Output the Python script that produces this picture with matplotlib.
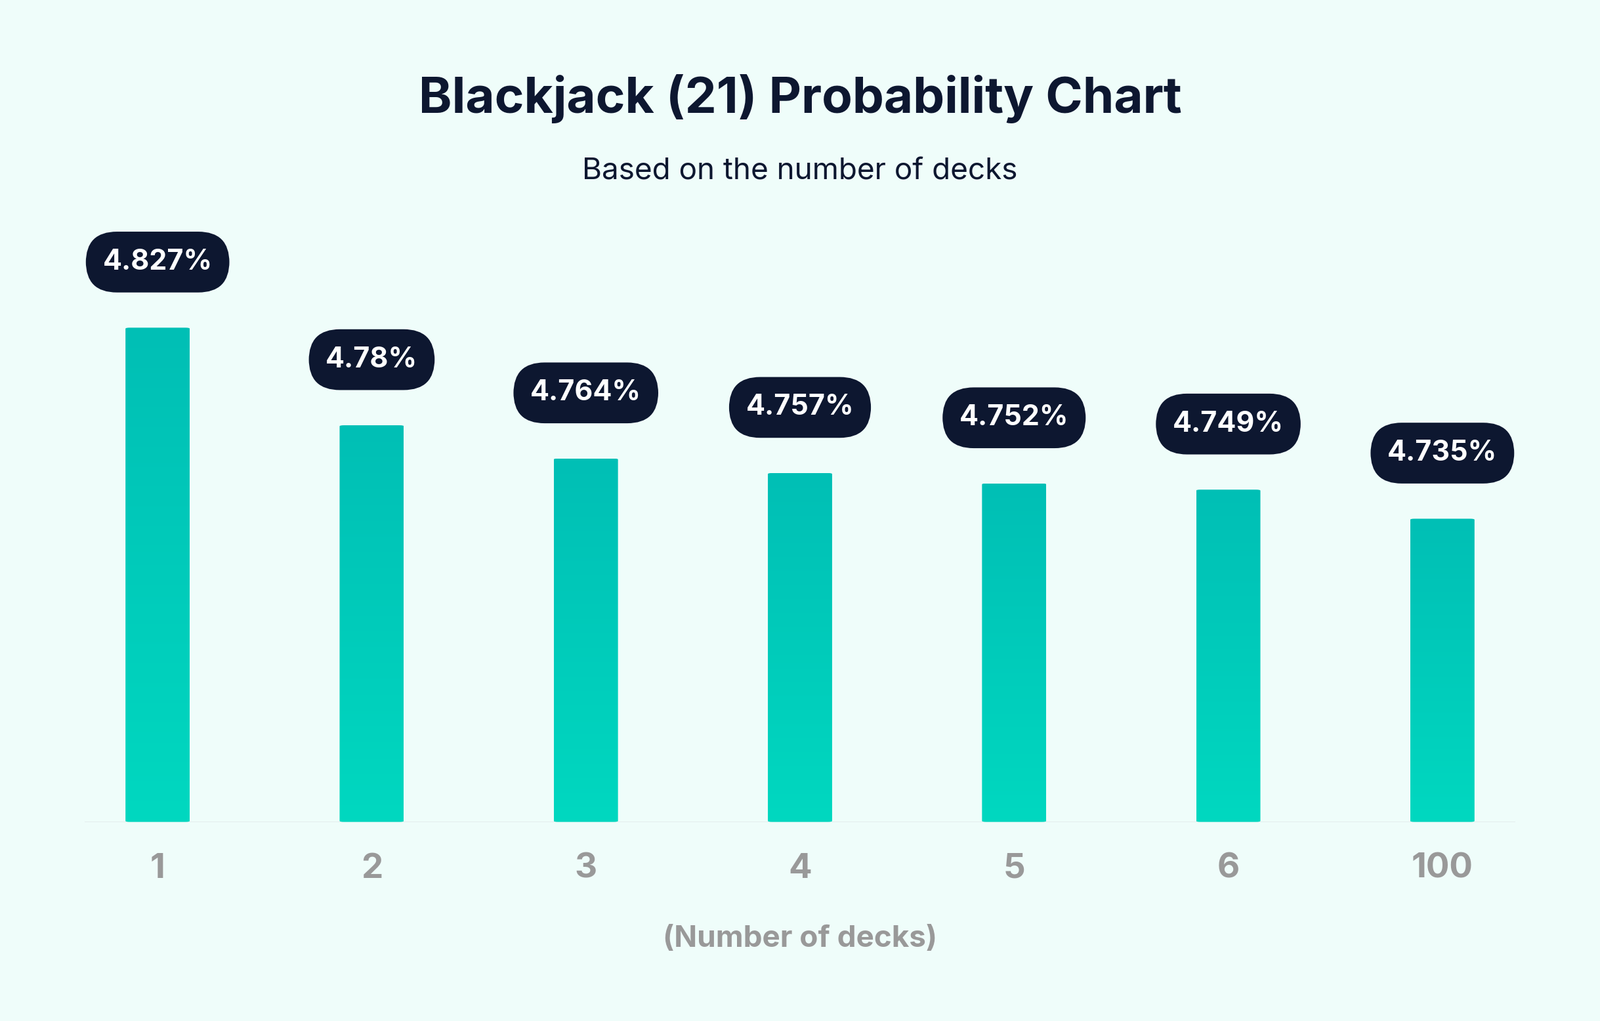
import matplotlib.pyplot as plt
import numpy as np
from matplotlib.colors import LinearSegmentedColormap
from matplotlib.patches import FancyBboxPatch

plt.rcParams["font.family"] = "Inter"

decks = ["1", "2", "3", "4", "5", "6", "100"]
probs = [4.827, 4.78, 4.764, 4.757, 4.752, 4.749, 4.735]
labels = ["4.827%", "4.78%", "4.764%", "4.757%", "4.752%", "4.749%", "4.735%"]

BG = "#effdfa"
NAVY = "#0d1730"
GRAY = "#999999"
base, top = 4.589, 4.884

fig = plt.figure(figsize=(24.38, 15.56), dpi=100, facecolor=BG)
ax = fig.add_axes([0.053, 0.195, 0.894, 0.6], facecolor=BG)

x = np.arange(len(decks))
bars = ax.bar(x, [p - base for p in probs], width=0.3, bottom=base, color="none")
cmap = LinearSegmentedColormap.from_list("g", ["#00d8c0", "#00bfb5"])
grad = np.linspace(0, 1, 256).reshape(-1, 1)
for b in bars:
    bx, by = b.get_x(), b.get_y()
    w, h = b.get_width(), b.get_height()
    clip = FancyBboxPatch((bx, by), w, h, boxstyle="round,pad=0,rounding_size=0.02",
                          mutation_aspect=(top - base) / 12, transform=ax.transData,
                          facecolor="none", edgecolor="none")
    ax.add_patch(clip)
    im = ax.imshow(grad, extent=(bx, bx + w, by, by + h), origin="lower", cmap=cmap,
                   aspect="auto", zorder=2)
    im.set_clip_path(clip)

for xi, p, lab in zip(x, probs, labels):
    ax.annotate(lab, (xi, p), xytext=(0, 72), textcoords="offset points",
                ha="center", va="center", fontsize=31, fontweight="bold", color="white",
                bbox=dict(boxstyle="round,pad=0.6,rounding_size=1.1", fc=NAVY, ec="none"))

ax.axhline(base, color="#e3ecec", lw=2, zorder=1)
ax.set_xlim(-0.34, 6.34)
ax.set_ylim(base, top)
ax.set_xticks(x)
ax.set_xticklabels(decks, fontsize=38, fontweight="bold", color=GRAY)
ax.tick_params(axis="x", length=0, pad=34)
ax.set_yticks([])
for s in ax.spines.values():
    s.set_visible(False)
ax.set_xlabel("(Number of decks)", fontsize=33, fontweight="bold", color=GRAY, labelpad=44)

fig.text(0.5, 0.903, "Blackjack (21) Probability Chart", ha="center", va="center",
         fontsize=55, fontweight="bold", color=NAVY)
fig.text(0.5, 0.832, "Based on the number of decks", ha="center", va="center",
         fontsize=33, color=NAVY)

fig.savefig("out.png", dpi=100, facecolor=BG)
